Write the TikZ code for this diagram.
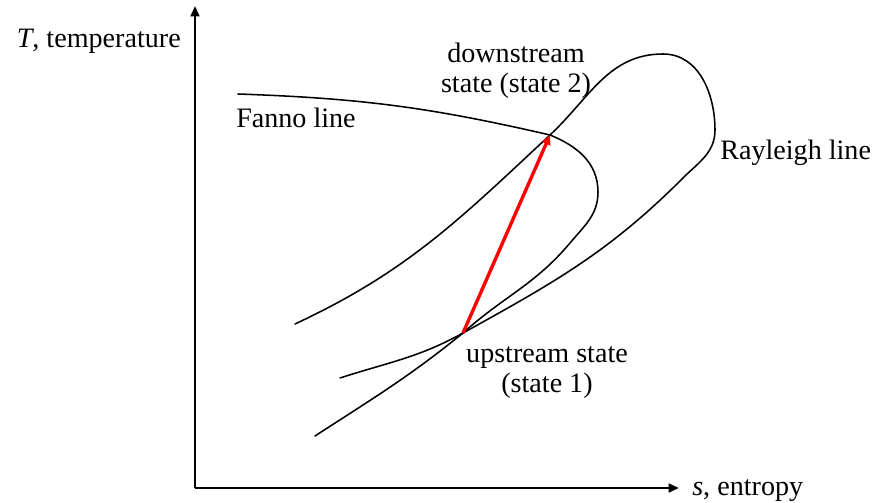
\documentclass[tikz,border=0pt]{standalone}
\usepackage{fontspec}
\setmainfont{Liberation Serif}
\usetikzlibrary{arrows.meta}

\begin{document}
\begin{tikzpicture}[
    curve/.style={line width=1.1pt,line cap=round},
    lbl/.style={font=\fontsize{20}{22}\selectfont,inner sep=0pt,align=center}]
  \useasboundingbox (-4.875,-.35) rectangle (17.025,12.2);
  % axes
  \draw[line width=1.6pt,-{Triangle[length=2.6mm,width=2.2mm]}] (0,0)--(0,12.05);
  \draw[line width=1.6pt,-{Triangle[length=2.6mm,width=2.2mm]}] (0,0)--(12.1,0);
  \node[lbl,anchor=base east] (tlab) at (-.35,11) {\textit{T}, temperature};
  \node[lbl,anchor=base west] (slab) at (12.425,-.175) {\textit{s}, entropy};
  % the two states
  \coordinate (up) at (6.7,3.875);
  \coordinate (down) at (8.875,8.825);
  % Fanno line
  \draw[curve] (1.075,9.85) to[out=-2,in=167] (down) to[out=-22,in=90] (10.075,7.4)
    to[out=-90,in=50] (9.375,6.125) to[out=230,in=42] (up) to[out=219,in=33] (3,1.3);
  % Rayleigh line
  \draw[curve] (2.5,4.1) to[out=25,in=223] (down) to[out=43,in=180] (11.7,10.85)
    to[out=0,in=90] (13,8.95) to[out=-90,in=45] (12.2,7.75) to[out=225,in=29] (up)
    to[out=209,in=18] (3.625,2.75);
  \draw[red,line width=2.4pt,-{Triangle[length=2.4mm,width=2.2mm]}] (up)--(down);
  \node[lbl,anchor=base] (fanno) at (2.525,9) {Fanno line};
  \node[lbl,anchor=base west] (rayl) at (13.125,8.2) {Rayleigh line};
  \node[lbl,anchor=base] (dstate) at (8.025,9.875) {downstream\\state (state 2)};
  \node[lbl,anchor=base] (ustate) at (8.8,2.375) {upstream state\\(state 1)};
\end{tikzpicture}
\end{document}
